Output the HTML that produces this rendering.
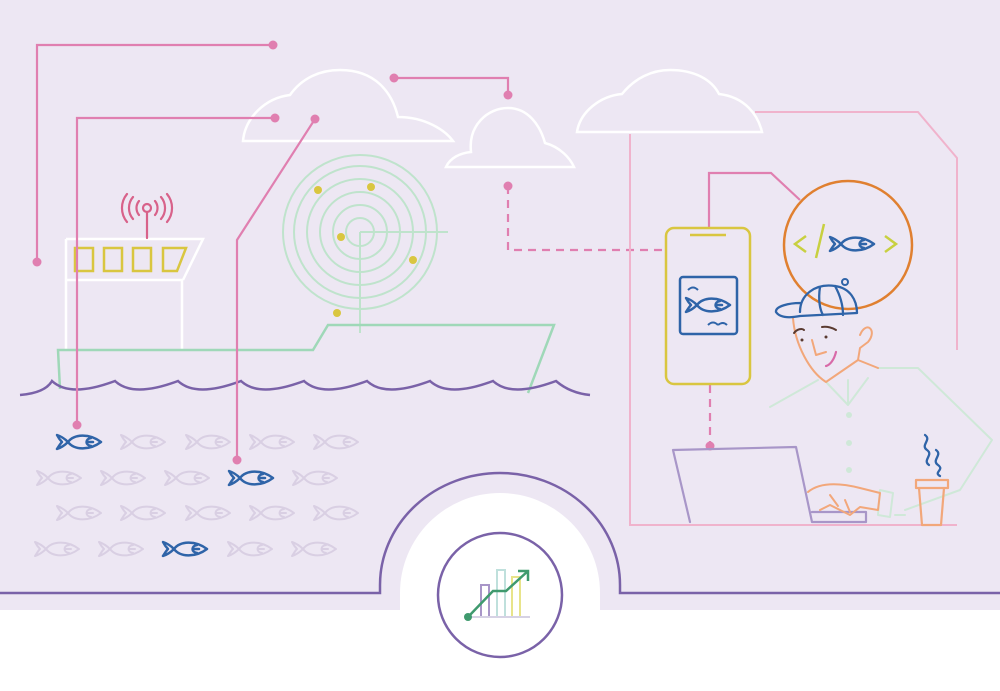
<!DOCTYPE html>
<html><head><meta charset="utf-8"><style>
html,body{margin:0;padding:0;background:#fff}
svg{display:block}
</style></head><body>
<svg width="1000" height="691" viewBox="0 0 1000 691" xmlns="http://www.w3.org/2000/svg">
<defs>
<g id="fish" fill="none" stroke-linecap="round" stroke-linejoin="round">
<path d="M11,9 C17,1 32,0 44,9 C32,18 17,17 11,9 Z M11,9 C7,5 3,3 0,2 C2,6 3,7 5,9 C3,11 2,13 0,16 C3,15 7,13 11,9 M34,5 C28,6 28,12 34,13 M31,9 H36"/>
</g>
</defs>
<rect x="0" y="0" width="1000" height="691" fill="#ede7f3"/>
<rect x="0" y="610" width="1000" height="81" fill="#fff"/>
<path d="M400,610 L400,593 A100,100 0 0 1 600,593 L600,610 Z" fill="#fff"/>
<path d="M0,593 H380 L380,585 A120,112 0 0 1 620,585 L620,593 H1000" fill="none" stroke="#7a62a8" stroke-width="2.5"/>
<circle cx="500" cy="595" r="62" fill="#fff" stroke="#7a62a8" stroke-width="2.5"/>
<rect x="481" y="585" width="8" height="32" fill="none" stroke="#a896c8" stroke-width="2"/>
<rect x="497" y="570" width="8" height="47" fill="none" stroke="#bfe0dc" stroke-width="2"/>
<rect x="512" y="577" width="8" height="40" fill="none" stroke="#e8e48a" stroke-width="2"/>
<line x1="470" y1="617" x2="530" y2="617" stroke="#d6d2e4" stroke-width="2"/>
<path d="M468,617 L493,591 L506,591 L528,571 M518,571 H528 V581" fill="none" stroke="#3f9a6e" stroke-width="2.5"/>
<circle cx="468" cy="617" r="4" fill="#3f9a6e"/>

<!-- clouds -->
<g fill="none" stroke="#fff" stroke-width="2.5">
<path d="M243,141 C245,118 265,98 290,95 C302,78 320,70 340,70 C375,70 392,92 398,117 C425,117 445,130 453,141 Z"/>
<path d="M446,167 C450,158 460,153 471,152 C468,125 488,108 508,108 C528,108 540,125 545,143 C560,147 570,158 574,167 Z"/>
<path d="M577,132 C580,112 600,96 622,94 C635,78 652,70 670,70 C695,70 712,80 719,94 C745,97 758,115 762,132 Z"/>
</g>

<!-- radar -->
<g fill="none" stroke="#bfe3cc" stroke-width="2">
<circle cx="360" cy="232" r="77"/><circle cx="360" cy="232" r="66"/><circle cx="360" cy="232" r="53"/><circle cx="360" cy="232" r="40"/><circle cx="360" cy="232" r="27"/><circle cx="360" cy="232" r="14"/>
<path d="M360,232 H448 M360,232 V333"/>
</g>
<g fill="#d9c640"><circle cx="318" cy="190" r="4"/><circle cx="371" cy="187" r="4"/><circle cx="341" cy="237" r="4"/><circle cx="413" cy="260" r="4"/><circle cx="337" cy="313" r="4"/></g>

<!-- ship -->
<path d="M66,239 H203 L183,280 M66,239 V350 M66,280 H182 V350" fill="none" stroke="#fff" stroke-width="2.5"/>
<g fill="none" stroke="#d9c640" stroke-width="2.5">
<rect x="75" y="248" width="18" height="23"/><rect x="104" y="248" width="18" height="23"/><rect x="133" y="248" width="18" height="23"/>
<path d="M163,248 H186 L177,271 H163 Z"/>
</g>
<g fill="none" stroke="#d8628a" stroke-width="2.2" stroke-linecap="round">
<circle cx="147" cy="208" r="4"/><path d="M147,212 V238"/>
<path d="M139,201 A11,11 0 0 0 139,215 M155,201 A11,11 0 0 1 155,215 M133,197 A17,17 0 0 0 133,219 M161,197 A17,17 0 0 1 161,219 M127,194 A22,22 0 0 0 127,222 M167,194 A22,22 0 0 1 167,222"/>
</g>
<path d="M60,389 L58,350 H313 L328,325 H554 L528,393" fill="none" stroke="#9fd8b8" stroke-width="2.5"/>
<path d="M20,395 Q45,393 52,381 Q70,398 115,381 Q133,398 178,381 Q196,398 241,381 Q259,398 304,381 Q322,398 367,381 Q385,398 430,381 Q448,398 493,381 Q511,398 556,381 Q570,393 590,395" fill="none" stroke="#7a62a8" stroke-width="2.5"/>

<!-- fish -->
<g stroke="#d9cfe3" stroke-width="2">
<use href="#fish" x="121" y="433"/><use href="#fish" x="186" y="433"/><use href="#fish" x="250" y="433"/><use href="#fish" x="314" y="433"/>
<use href="#fish" x="37" y="469"/><use href="#fish" x="101" y="469"/><use href="#fish" x="165" y="469"/><use href="#fish" x="293" y="469"/>
<use href="#fish" x="57" y="504"/><use href="#fish" x="121" y="504"/><use href="#fish" x="186" y="504"/><use href="#fish" x="250" y="504"/><use href="#fish" x="314" y="504"/>
<use href="#fish" x="35" y="540"/><use href="#fish" x="99" y="540"/><use href="#fish" x="228" y="540"/><use href="#fish" x="292" y="540"/>
</g>
<g stroke="#2f64a8" stroke-width="2.5">
<use href="#fish" x="57" y="433"/><use href="#fish" x="229" y="469"/><use href="#fish" x="163" y="540"/>
</g>

<!-- pink connectors -->
<g fill="none" stroke="#e07fb0" stroke-width="2.2">
<path d="M37,262 V45 H273"/>
<path d="M77,425 V118 H275"/>
<path d="M237,460 V240 L315,119"/>
<path d="M394,78 H508 V95"/>
<path d="M508,186 V250 H665" stroke-dasharray="8,6"/>
<path d="M710,385 V446" stroke-dasharray="8,6"/>
<path d="M709,228 V173 H771 L800,200"/>
</g>
<g fill="#e07fb0">
<circle cx="37" cy="262" r="4.5"/><circle cx="273" cy="45" r="4.5"/><circle cx="77" cy="425" r="4.5"/><circle cx="275" cy="118" r="4.5"/>
<circle cx="237" cy="460" r="4.5"/><circle cx="315" cy="119" r="4.5"/><circle cx="394" cy="78" r="4.5"/><circle cx="508" cy="95" r="4.5"/>
<circle cx="508" cy="186" r="4.5"/><circle cx="710" cy="446" r="4.5"/>
</g>
<g fill="none" stroke="#f0b3cc" stroke-width="2">
<path d="M630,134 V525 H957"/>
<path d="M755,112 H918 L957,158 V350"/>
</g>

<!-- phone -->
<rect x="666" y="228" width="84" height="156" rx="8" fill="none" stroke="#d9c640" stroke-width="2.5"/>
<path d="M690,235 H726" stroke="#d9c640" stroke-width="2.5"/>
<rect x="680" y="277" width="57" height="57" rx="3" fill="none" stroke="#2f64a8" stroke-width="2.5"/>
<use href="#fish" x="686" y="296" stroke="#2f64a8" stroke-width="2.5"/>
<path d="M688,290 Q693,285 698,290 M708,325 Q713,320 718,325 M718,325 Q723,321 727,325" fill="none" stroke="#2f64a8" stroke-width="2"/>

<!-- code circle -->
<circle cx="848" cy="245" r="64" fill="none" stroke="#e08030" stroke-width="2.5"/>
<path d="M806,236 L795,244 L806,252 M824,224 L816,258 M885,236 L896,244 L885,252" fill="none" stroke="#c8d040" stroke-width="2.5"/>
<use href="#fish" x="830" y="235" stroke="#2f64a8" stroke-width="2.5"/>

<!-- person -->
<g fill="none" stroke-linecap="round" stroke-linejoin="round">
<path d="M770,407 L818,380 M878,368 H918 L992,440 L960,490 L905,510 M827,383 L848,405 L868,378 M848,405 V380" stroke="#cfe8d8" stroke-width="2"/>
<g fill="#cfe8d8"><circle cx="849" cy="415" r="3"/><circle cx="849" cy="443" r="3"/><circle cx="849" cy="470" r="3"/></g>
<path d="M895,515 H905 M880,490 L893,493 L890,517 L878,515 Z" stroke="#cfe8d8" stroke-width="2"/>
<path d="M793,318 C795,345 810,372 826,382 L858,360 L878,368 M860,335 C866,320 878,330 868,342 L860,348 M860,348 L858,360" stroke="#f2a77a" stroke-width="2"/>
<path d="M812,340 L816,355 L826,352" stroke="#f2a77a" stroke-width="2"/>
<path d="M836,352 C834,360 830,365 826,366" stroke="#d86aa8" stroke-width="2.2"/>
<path d="M794,333 C797,329 802,328 804,330 M822,327 C827,326 833,328 836,330" stroke="#5a3a30" stroke-width="2"/>
<circle cx="802" cy="340" r="1.5" fill="#5a3a30"/><circle cx="826" cy="337" r="1.5" fill="#5a3a30"/>
<path d="M800,312 C800,295 815,283 835,286 C850,288 857,300 857,313 L800,316 C790,318 780,318 776,312 C775,306 790,303 800,303 M820,287 C818,300 820,310 823,315 M835,286 C840,295 843,305 843,315" stroke="#2f64a8" stroke-width="2.3"/>
<circle cx="845" cy="282" r="3" stroke="#2f64a8" stroke-width="2"/>
<path d="M673,450 L796,447 L812,522 M673,450 L690,522 M812,512 H866 V522 H812" stroke="#a896c8" stroke-width="2.2"/>
<path d="M808,492 C820,482 840,483 860,488 L880,493 L878,510 L860,507 L850,515 L840,510 L830,505 L820,510 M830,495 L838,506 M845,500 L850,512" stroke="#f2a77a" stroke-width="2"/>
<path d="M916,480 H948 V488 H916 Z M919,488 L922,525 H941 L944,488" stroke="#f2a77a" stroke-width="2.2"/>
<path d="M925,435 C932,440 920,445 927,450 C934,455 922,460 929,465 M936,450 C943,455 931,460 938,465 C945,470 933,472 940,476" stroke="#2f64a8" stroke-width="2.3"/>
</g>
</svg>
</body></html>
